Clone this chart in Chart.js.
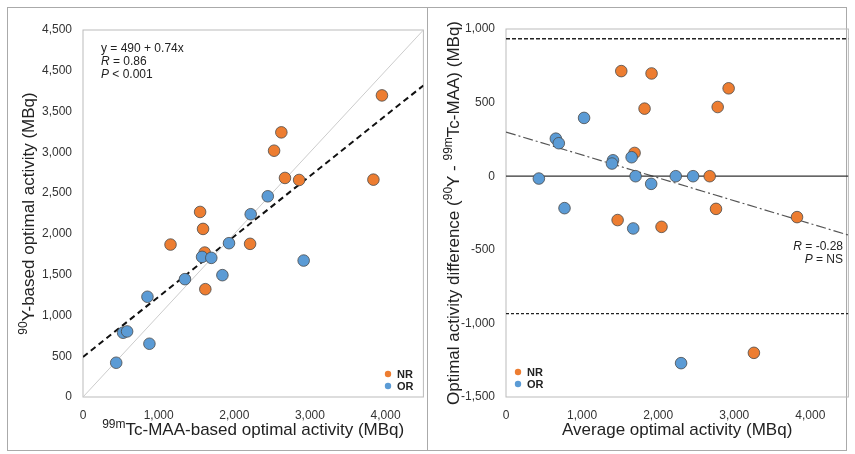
<!DOCTYPE html>
<html>
<head>
<script src="https://cdn.jsdelivr.net/npm/chart.js"></script>
<style>
  body { margin:0; background:#fff; }
  #wrap { position:relative; width:855px; height:454px; }
  #frame { position:absolute; left:7px; top:7px; width:840px; height:444px; border:1px solid #aaa; box-sizing:border-box; }
  #divider { position:absolute; left:427px; top:7px; width:1px; height:444px; background:#aaa; }
  .c { position:absolute; top:0; width:430px; height:454px; }
</style>
</head>
<body>
<div id="wrap">
  <div id="frame"></div>
  <div id="divider"></div>
  <div class="c" style="left:0"><canvas id="left"></canvas></div>
  <div class="c" style="left:425px"><canvas id="right"></canvas></div>
</div>
<script>
// left panel: 99mTc-MAA vs 90Y optimal activity
var nrTc = [3952, 2622, 2526, 2670, 2857, 3839, 1548, 1587, 1157, 1609, 2209, 1617];
var nrY  = [3698, 3245, 3020, 2686, 2661, 2665, 2269, 2061, 1869, 1771, 1878, 1322];
var orTc = [2443, 2217, 1930, 1574, 1696, 1843, 2917, 1348, 852, 530, 583, 878, 439];
var orY  = [2461, 2241, 1886, 1718, 1706, 1494, 1673, 1445, 1229, 788, 804, 653, 420];
var leftYLabels = ['0','500','1,000','1,500','2,000','2,500','3,000','3,500','4,500','4,500'];
var xTicks = [0, 1000, 2000, 3000, 4000];
var regIntercept = 490, regSlope = 0.74;

// right panel: Bland-Altman
var nrAvg  = [1515, 1913, 2926, 1821, 2782, 1690, 2677, 1467, 2044, 2760, 3825, 3258];
var nrDiff = [714, 698, 597, 459, 470, 158, 0, -298, -344, -222, -278, -1200];
var orAvg  = [1026, 655, 694, 1406, 1393, 1651, 1703, 1908, 2231, 2459, 432, 769, 1672, 2301];
var orDiff = [396, 255, 224, 108, 86, 129, 0, -52, 0, 0, -16, -217, -355, -1270];
var loa = 934;
var trendStart = 300, trendEnd = -400;

var ORANGE = '#ED7D31', BLUE = '#5B9BD5';
var FONT = '"Liberation Sans", Arial, sans-serif';

function pts(xs, ys) { return xs.map(function (x, i) { return {x: x, y: ys[i]}; }); }
function fmt(v) { return v.toLocaleString('en-US'); }

function drawRich(ctx, segs, x, y, size, align) {
  ctx.save();
  ctx.fillStyle = '#222';
  ctx.textBaseline = 'alphabetic';
  var w = 0;
  segs.forEach(function (s) {
    ctx.font = (s.sup ? Math.round(size * 0.7) : size) + 'px ' + FONT;
    s.w = ctx.measureText(s.t).width; w += s.w;
  });
  var cx = align === 'center' ? x - w / 2 : x;
  ctx.textAlign = 'left';
  segs.forEach(function (s) {
    ctx.font = (s.sup ? Math.round(size * 0.7) : size) + 'px ' + FONT;
    ctx.fillText(s.t, cx, s.sup ? y - size * 0.4 : y);
    cx += s.w;
  });
  ctx.restore();
}

var decor = {
  id: 'decor',
  beforeDatasetsDraw: function (chart, args, o) {
    var a = chart.chartArea, ctx = chart.ctx;
    ctx.save();
    ctx.strokeStyle = '#bbb'; ctx.lineWidth = 1;
    ctx.strokeRect(a.left, a.top, a.right - a.left, a.bottom - a.top);
    ctx.restore();
  },
  afterDraw: function (chart, args, o) {
    var a = chart.chartArea, ctx = chart.ctx;
    drawRich(ctx, o.xTitle, (a.left + a.right) / 2, a.bottom + 38, 17, 'center');
    ctx.save();
    ctx.translate(o.yTitleX, (a.top + a.bottom) / 2);
    ctx.rotate(-Math.PI / 2);
    drawRich(ctx, o.yTitle, 0, 0, 17, 'center');
    ctx.restore();
    // notes
    ctx.save();
    ctx.fillStyle = '#222';
    o.notes.forEach(function (n) {
      ctx.textAlign = n.align;
      var x = n.x;
      if (n.it) {
        ctx.font = 'italic 12px ' + FONT;
        var w = ctx.measureText(n.it).width;
        ctx.font = '12px ' + FONT;
        var w2 = ctx.measureText(n.rest).width;
        var sx = n.align === 'right' ? x - w - w2 : x;
        ctx.textAlign = 'left';
        ctx.font = 'italic 12px ' + FONT; ctx.fillText(n.it, sx, n.y);
        ctx.font = '12px ' + FONT; ctx.fillText(n.rest, sx + w, n.y);
      } else {
        ctx.font = '12px ' + FONT; ctx.fillText(n.rest, x, n.y);
      }
    });
    // legend
    var lx = o.legend.x, ly = o.legend.y;
    [['NR', ORANGE], ['OR', BLUE]].forEach(function (l, i) {
      ctx.beginPath(); ctx.fillStyle = l[1];
      ctx.arc(lx, ly + i * 12, 3.2, 0, Math.PI * 2); ctx.fill();
      ctx.fillStyle = '#222'; ctx.font = 'bold 11px ' + FONT; ctx.textAlign = 'left';
      ctx.fillText(l[0], lx + 9, ly + i * 12 + 4);
    });
    ctx.restore();
  }
};

function scatterSet(data, color) {
  return { type: 'scatter', data: data, backgroundColor: color, borderColor: '#4a4a4a',
           borderWidth: 0.8, pointRadius: 5.8, order: 1 };
}
function lineSet(data, color, dash, w) {
  return { type: 'line', data: data, borderColor: color, borderDash: dash, borderWidth: w,
           pointRadius: 0, fill: false, order: 2 };
}
function tickFont() { return { family: FONT, size: 12 }; }
function xScale() {
  return { type: 'linear', min: 0, max: 4500, grid: { display: false }, border: { display: false },
           afterFit: function (s) { s.height = 57; },
           afterBuildTicks: function (s) { s.ticks = xTicks.map(function (v) { return {value: v}; }); },
           ticks: { autoSkip: false, color: '#333', font: tickFont(), maxRotation: 0,
                    callback: function (v) { return fmt(v); } } };
}

new Chart('left', {
  data: { datasets: [
    scatterSet(pts(orTc, orY), BLUE),
    scatterSet(pts(nrTc, nrY), ORANGE),
    lineSet([{x: 0, y: 0}, {x: 4500, y: 4500}], '#ccc', [], 1),
    lineSet([{x: 0, y: regIntercept}, {x: 4500, y: regIntercept + regSlope * 4500}], '#111', [6, 4], 2)
  ]},
  options: {
    responsive: true, maintainAspectRatio: false, animation: false,
    layout: { padding: { left: 0, right: 5, top: 30, bottom: 0 } },
    scales: {
      x: xScale(),
      y: { min: 0, max: 4500, grid: { display: false }, border: { display: false },
           afterFit: function (s) { s.width = 83; },
           ticks: { stepSize: 500, autoSkip: false, color: '#333', font: tickFont(),
                    callback: function (v) { return leftYLabels[Math.round(v / 500)]; } } }
    },
    plugins: {
      legend: { display: false }, tooltip: { enabled: false },
      decor: {
        xTitle: [{t: '99m', sup: true}, {t: 'Tc-MAA-based optimal activity (MBq)'}],
        yTitle: [{t: '90', sup: true}, {t: 'Y-based optimal activity (MBq)'}],
        yTitleX: 34,
        notes: [
          {x: 101, y: 52, align: 'left', rest: 'y = 490 + 0.74x'},
          {x: 101, y: 65, align: 'left', it: 'R', rest: ' = 0.86'},
          {x: 101, y: 78, align: 'left', it: 'P', rest: ' < 0.001'}
        ],
        legend: { x: 388, y: 374 }
      }
    }
  },
  plugins: [decor]
});

new Chart('right', {
  data: { datasets: [
    scatterSet(pts(orAvg, orDiff), BLUE),
    scatterSet(pts(nrAvg, nrDiff), ORANGE),
    lineSet([{x: 0, y: 0}, {x: 4500, y: 0}], '#333', [], 1.2),
    lineSet([{x: 0, y: loa}, {x: 4500, y: loa}], '#222', [4, 2], 1.5),
    lineSet([{x: 0, y: -loa}, {x: 4500, y: -loa}], '#222', [3, 2], 1.2),
    lineSet([{x: 0, y: trendStart}, {x: 4500, y: trendEnd}], '#555', [10, 3, 2, 3], 1.2)
  ]},
  options: {
    responsive: true, maintainAspectRatio: false, animation: false,
    layout: { padding: { left: 0, right: 6, top: 29, bottom: 0 } },
    scales: {
      x: xScale(),
      y: { min: -1500, max: 1000, grid: { display: false }, border: { display: false },
           afterFit: function (s) { s.width = 81; },
           ticks: { stepSize: 500, autoSkip: false, color: '#333', font: tickFont(),
                    callback: function (v) { return fmt(v); } } }
    },
    plugins: {
      legend: { display: false }, tooltip: { enabled: false },
      decor: {
        xTitle: [{t: 'Average optimal activity (MBq)'}],
        yTitle: [{t: 'Optimal activity difference ('}, {t: '90', sup: true}, {t: 'Y - '},
                 {t: '99m', sup: true}, {t: 'Tc-MAA) (MBq)'}],
        yTitleX: 34,
        notes: [
          {x: 418, y: 250, align: 'right', it: 'R', rest: ' = -0.28'},
          {x: 418, y: 263, align: 'right', it: 'P', rest: ' = NS'}
        ],
        legend: { x: 93, y: 372 }
      }
    }
  },
  plugins: [decor]
});
</script>
</body>
</html>
